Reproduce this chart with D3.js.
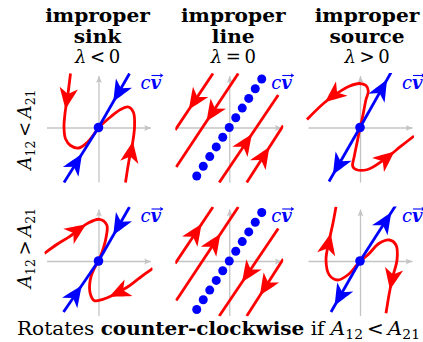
<!DOCTYPE html>
<html>
<head>
<meta charset="utf-8">
<script src="https://cdn.jsdelivr.net/npm/d3@7"></script>
<style>
  body { margin: 0; background: #fff; }
  svg text { font-family: "DejaVu Serif", serif; fill: #000; }
</style>
</head>
<body>
<svg id="chart" width="423" height="342"></svg>
<script>
// categories
const columns = ["sink", "line", "source"]
const lambdaSigns = ["<", "=", ">"]
const rowSigns = ["<", ">"]

// trajectories in phase-plane units, listed in the direction of flow
const sinkLessCurves = [
  [[-2.8,5.4],[-3.05,3.4],[-3.35,1.4],[-3.45,0],[-3.3,-1.13],[-2.8,-1.8],[-1.97,-2.05],[-1.13,-1.5],[-0.47,-0.7],[0,0]],
  [[2.7,-5.5],[3.05,-3.3],[3.4,-1.6],[3.6,0],[3.5,1.5],[3.0,2.05],[2.2,1.8],[1.2,1.05],[0,0]]
]
const sinkLessArrows = [0.31, 0.35]
const sourceLessCurves = [
  [[0,0],[0.27,1.13],[0.6,2.8],[0.83,3.63],[0.6,4.2],[-0.07,4.4],[-1.07,4.13],[-2.23,3.47],[-3.57,2.47],[-5.3,0.8]],
  [[0,0],[-0.23,-1.2],[-0.57,-2.87],[-0.73,-3.87],[-0.4,-4.2],[0.77,-4.2],[2.43,-3.2],[4.1,-1.87],[5.4,-0.85]]
]
const sourceLessArrows = [0.77, 0.77]
const sinkMoreCurves = [
  [[-5.4,0.77],[-4.1,1.7],[-2.9,2.43],[-1.07,3.77],[0.1,4.17],[0.83,3.6],[0.77,2.43],[0.43,1.1],[0,0]],
  [[5.43,-0.73],[4.1,-1.7],[2.9,-2.6],[1.27,-3.5],[0.43,-3.83],[-0.4,-3.97],[-0.83,-3.23],[-0.83,-1.9],[-0.5,-0.9],[0,0]]
]
const sinkMoreArrows = [0.44, 0.46]
const sourceMoreCurves = [
  [[0,0],[-0.4,-0.5],[-1.23,-1.4],[-2.23,-1.9],[-3.07,-1.4],[-3.4,0.1],[-3.07,2.1],[-2.7,3.8],[-2.4,5.43]],
  [[0,0],[0.77,0.6],[1.93,1.77],[2.93,2.1],[3.6,1.6],[3.7,0.1],[3.27,-1.57],[2.93,-3.23],[2.6,-5.23]]
]
const sourceMoreArrows = [0.74, 0.78]
const lineLessSegments = [
  [[-1.63,5.4],[-5.4,-0.25]],
  [[0.9,5.4],[-5.3,-3.95]],
  [[-1.0,-5.5],[4.9,3.25]],
  [[1.75,-5.5],[5.4,0.2]]
]
const lineLessArrows = [0.62, 0.5, 0.54, 0.6]
const lineMoreSegments = [
  [[-5.4,-0.25],[-1.63,5.4]],
  [[-5.3,-3.95],[0.9,5.4]],
  [[4.9,3.25],[-1.0,-5.5]],
  [[5.4,0.2],[1.75,-5.5]]
]
const lineMoreArrows = [0.68, 0.7, 0.6, 0.62]

// eigenvector line ends [upper, lower]
const sinkLessEigen = [[3.1,5.4],[-3.45,-5.5]]
const sourceLessEigen = [[3.1,5.5],[-3.1,-5.4]]
const sinkMoreEigen = [[3.1,5.4],[-3.5,-5.1]]
const sourceMoreEigen = [[3.6,5.6],[-2.9,-5.1]]
const sinkEigenArrow = 0.5
const sourceEigenArrow = 0.85
// line of fixed points: c * v
const lineVector = [0.65, 0.97]
const lineMultiples = [-5, -4, -3, -2, -1, 0, 1, 2, 3, 4, 5]

const RED = "#ff0000", BLUE = "#0000ff", GREY = "#c4c4c4"

const panels = [
  { row: 0, col: 0, kind: "sink", curves: sinkLessCurves, arrows: sinkLessArrows, eigen: sinkLessEigen },
  { row: 0, col: 1, kind: "line", curves: lineLessSegments, arrows: lineLessArrows },
  { row: 0, col: 2, kind: "source", curves: sourceLessCurves, arrows: sourceLessArrows, eigen: sourceLessEigen },
  { row: 1, col: 0, kind: "sink", curves: sinkMoreCurves, arrows: sinkMoreArrows, eigen: sinkMoreEigen },
  { row: 1, col: 1, kind: "line", curves: lineMoreSegments, arrows: lineMoreArrows },
  { row: 1, col: 2, kind: "source", curves: sourceMoreCurves, arrows: sourceMoreArrows, eigen: sourceMoreEigen }
]

const svg = d3.select("#chart")
const colX = d3.scalePoint().domain(d3.range(columns.length)).range([98.5, 360])
const rowY = d3.scalePoint().domain(d3.range(rowSigns.length)).range([127.5, 261])
const half = 52

const defs = svg.append("defs")
defs.append("marker")
  .attr("id", "axisHead")
  .attr("viewBox", "-7 -4 8 8")
  .attr("refX", 0).attr("refY", 0)
  .attr("markerWidth", 8).attr("markerHeight", 8)
  .attr("markerUnits", "userSpaceOnUse")
  .attr("orient", "auto")
  .append("path")
  .attr("d", "M0,0 L-7,-3 Q-4.5,0 -7,3 Z")
  .attr("fill", GREY)

// big stealth-like head, tip at the origin
const headPath = "M1.5,0 C-4,-2.2 -12,-6 -20,-9.2 L-14,0 L-20,9.2 C-12,6 -4,2.2 1.5,0 Z"

function arrowOn(g, pathNode, frac, color) {
  const L = pathNode.getTotalLength()
  const p = pathNode.getPointAtLength(frac * L)
  const q = pathNode.getPointAtLength(Math.max(0, frac * L - 2))
  const a = Math.atan2(p.y - q.y, p.x - q.x) * 180 / Math.PI
  g.append("path")
    .attr("d", headPath)
    .attr("fill", color)
    .attr("transform", `translate(${p.x},${p.y}) rotate(${a})`)
}

// stretch a text element to mimic the wide TeX fonts
function widen(sel, k) {
  const w = sel.node().getComputedTextLength()
  sel.attr("textLength", w * k).attr("lengthAdjust", "spacingAndGlyphs")
}

panels.forEach((pn, i) => {
  const cx = colX(pn.col), cy = rowY(pn.row)
  const x = d3.scaleLinear().domain([-5.2, 5.2]).range([cx - half, cx + half])
  const y = d3.scaleLinear().domain([-5.2, 5.2]).range([cy + half, cy - half])
  const g = svg.append("g")

  // axes
  const xAxis = d3.axisBottom(x).tickValues([]).tickSizeOuter(0)
  const yAxis = d3.axisLeft(y.copy().domain([-5.45, 5.2]).range([y(-5.45), y(5.2)])).tickValues([]).tickSizeOuter(0)
  g.append("g").attr("transform", `translate(0,${y(0)})`).call(xAxis)
    .select(".domain").attr("stroke", GREY).attr("stroke-width", 1.3).attr("marker-end", "url(#axisHead)")
  g.append("g").attr("transform", `translate(${x(0)},0)`).call(yAxis)
    .select(".domain").attr("stroke", GREY).attr("stroke-width", 1.3).attr("marker-end", "url(#axisHead)")

  const clipId = "clip" + i
  defs.append("clipPath").attr("id", clipId).append("rect")
    .attr("x", x(-5.4)).attr("y", y(5.45)).attr("width", x(5.4) - x(-5.4)).attr("height", y(-5.55) - y(5.45))
  const body = g.append("g").attr("clip-path", `url(#${clipId})`)
  const heads = g.append("g")

  const line = d3.line().x(d => x(d[0])).y(d => y(d[1])).curve(d3.curveCatmullRom.alpha(0.5))

  // red trajectories
  pn.curves.forEach((c, k) => {
    const path = body.append("path")
      .attr("d", line(c))
      .attr("fill", "none")
      .attr("stroke", RED)
      .attr("stroke-width", 2.8)
    arrowOn(heads, path.node(), pn.arrows[k], RED)
  })

  // eigen direction
  if (pn.kind === "line") {
    body.selectAll("circle.fixed")
      .data(lineMultiples)
      .join("circle")
      .attr("class", "fixed")
      .attr("cx", c => x(c * lineVector[0]))
      .attr("cy", c => y(c * lineVector[1]))
      .attr("r", 4.5)
      .attr("fill", BLUE)
  } else {
    pn.eigen.forEach(end => {
      const ray = pn.kind === "sink" ? [end, [0, 0]] : [[0, 0], end]
      const path = body.append("path")
        .attr("d", d3.line().x(d => x(d[0])).y(d => y(d[1]))(ray))
        .attr("fill", "none")
        .attr("stroke", BLUE)
        .attr("stroke-width", 2.8)
      arrowOn(heads, path.node(), pn.kind === "sink" ? sinkEigenArrow : sourceEigenArrow, BLUE)
    })
    g.append("circle").attr("cx", x(0)).attr("cy", y(0)).attr("r", 4.8).attr("fill", BLUE)
  }

  // c v label
  const lx = cx + 42, ly = cy - 39
  const lab = g.append("text").attr("x", lx).attr("y", ly).attr("font-size", 18).style("fill", BLUE)
  lab.append("tspan").attr("font-style", "italic").text("c")
  lab.append("tspan").attr("font-style", "italic").attr("font-weight", "bold").text("v")
  g.append("path")
    .attr("d", `M${lx + 11},${ly - 13} H${lx + 22}`)
    .attr("stroke", BLUE).attr("stroke-width", 1.1)
  g.append("path")
    .attr("d", `M${lx + 23},${ly - 13} L${lx + 19.5},${ly - 15.2} L${lx + 20.3},${ly - 13} L${lx + 19.5},${ly - 10.8} Z`)
    .attr("fill", BLUE)
})

// column titles
const titleShift = [-1, 4, 7]
columns.forEach((c, i) => {
  const tx = colX(i) + titleShift[i]
  widen(svg.append("text").attr("x", tx).attr("y", 22).attr("text-anchor", "middle")
    .attr("font-size", 18).attr("font-weight", "bold").text("improper"), 1.12)
  widen(svg.append("text").attr("x", tx).attr("y", 43).attr("text-anchor", "middle")
    .attr("font-size", 18).attr("font-weight", "bold").text(c), 1.12)
  const lt = svg.append("text").attr("x", tx).attr("y", 63).attr("text-anchor", "middle").attr("font-size", 18)
  lt.append("tspan").attr("font-style", "italic").text("λ")
  lt.append("tspan").text("\u2009" + lambdaSigns[i] + "\u2009")
  lt.append("tspan").text("0")
})

// row labels
const rowShift = [2, -13]
rowSigns.forEach((s, r) => {
  const t = svg.append("text")
    .attr("transform", `translate(31,${rowY(r) + rowShift[r]}) rotate(-90)`)
    .attr("text-anchor", "middle").attr("font-size", 18)
  t.append("tspan").attr("font-style", "italic").text("A")
  t.append("tspan").attr("font-size", 12.5).attr("dy", 4).text("12")
  t.append("tspan").attr("dy", -4).text("\u2009" + s + "\u2009")
  t.append("tspan").attr("font-style", "italic").text("A")
  t.append("tspan").attr("font-size", 12.5).attr("dy", 4).text("21")
})

// caption
const cap = svg.append("text").attr("x", 17).attr("y", 335).attr("font-size", 18)
cap.append("tspan").text("Rotates ")
cap.append("tspan").attr("font-weight", "bold").text("counter-clockwise")
cap.append("tspan").text(" if ")
cap.append("tspan").attr("font-style", "italic").text("A")
cap.append("tspan").attr("font-size", 12.5).attr("dy", 3.5).text("12")
cap.append("tspan").attr("dy", -3.5).text("\u2009<\u2009")
cap.append("tspan").attr("font-style", "italic").text("A")
cap.append("tspan").attr("font-size", 12.5).attr("dy", 3.5).text("21")
cap.attr("textLength", 403).attr("lengthAdjust", "spacingAndGlyphs")
</script>
</body>
</html>
